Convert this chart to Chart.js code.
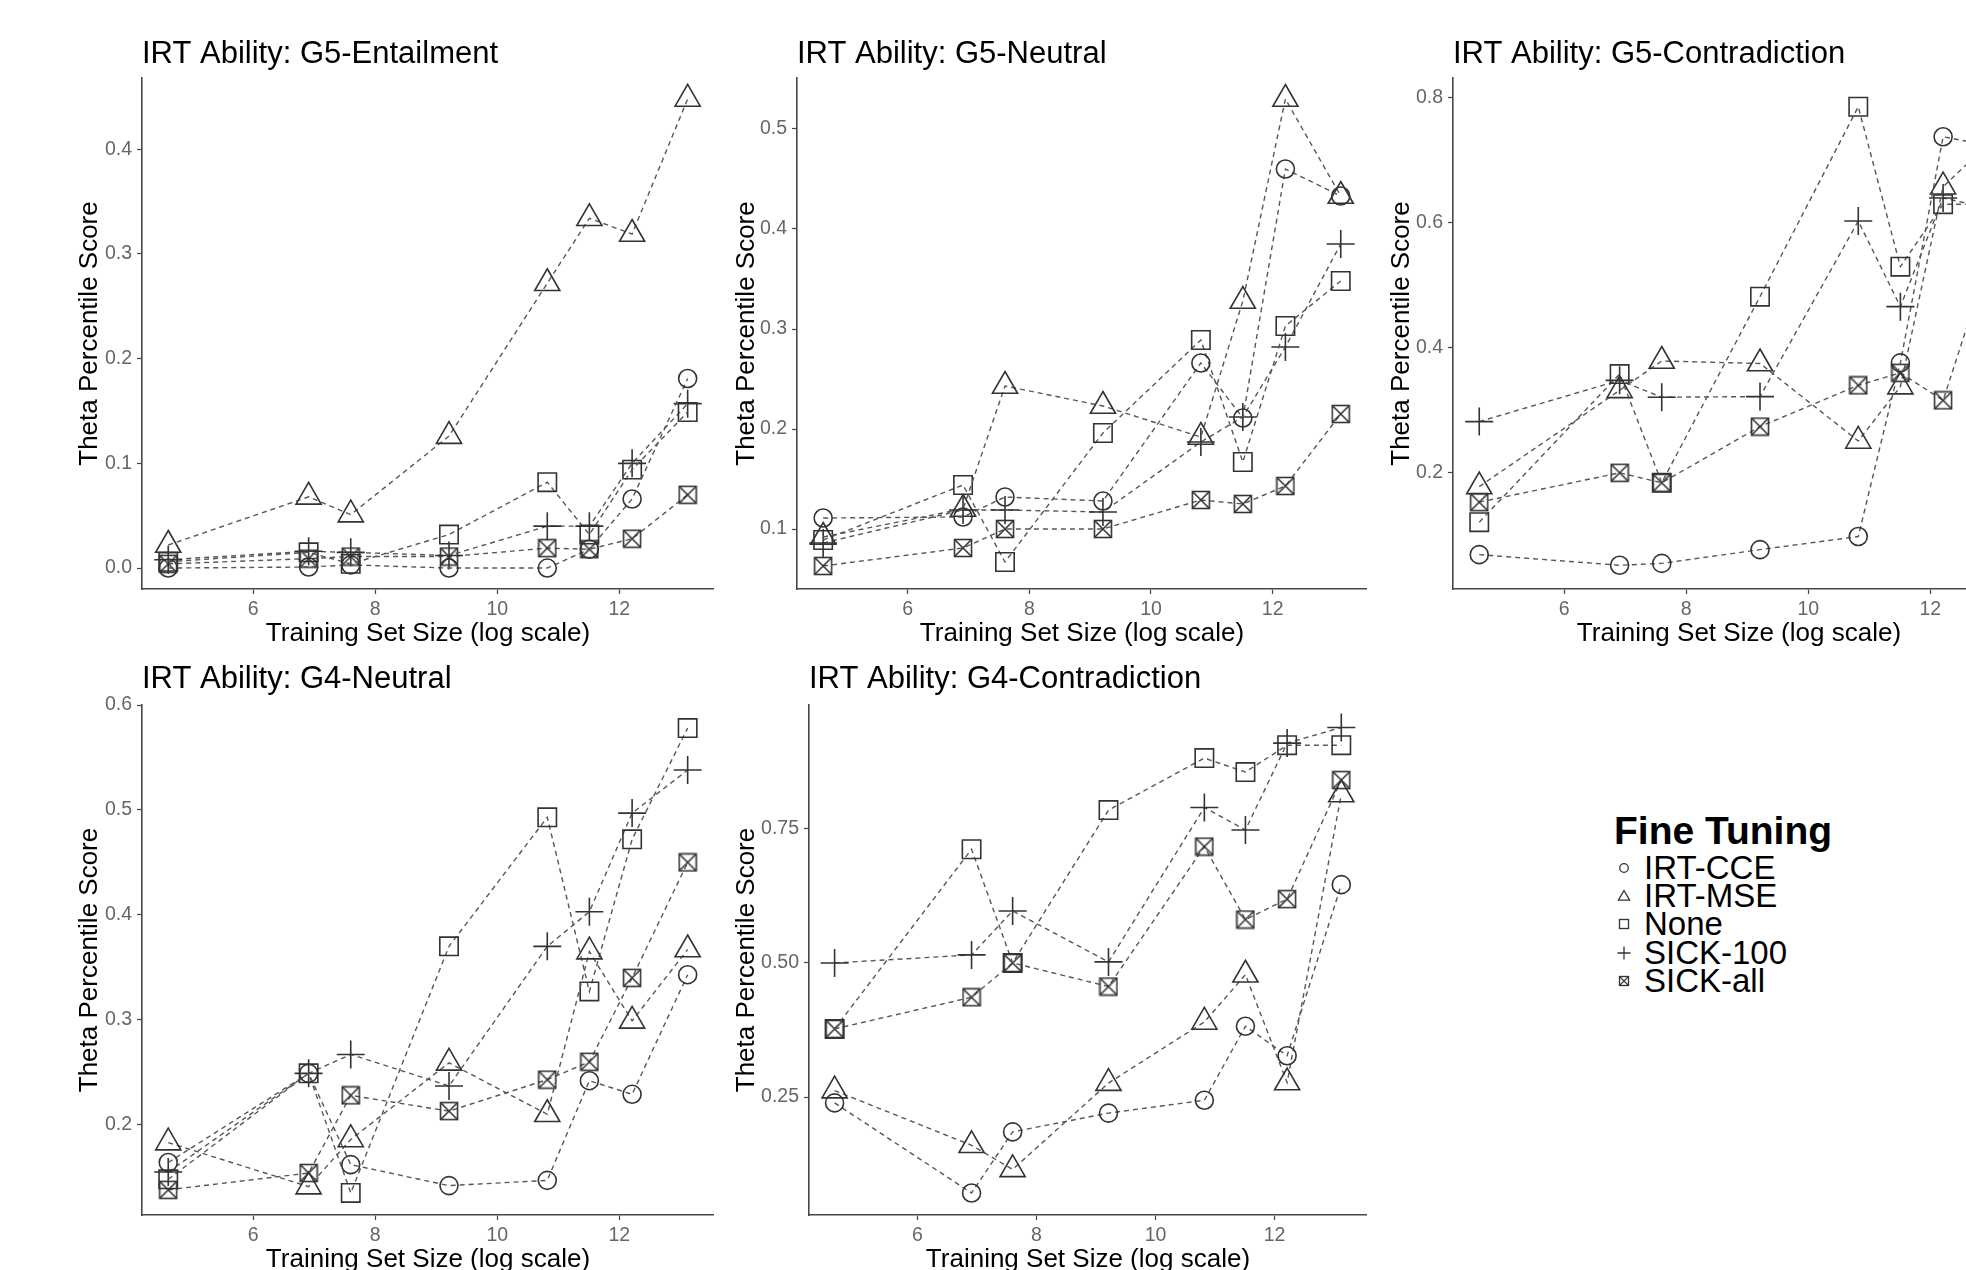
<!DOCTYPE html>
<html>
<head>
<meta charset="utf-8">
<script src="https://cdn.jsdelivr.net/npm/chart.js@4.4.1/dist/chart.umd.min.js"></script>
<style>
html,body{margin:0;padding:0;width:1966px;height:1270px;overflow:hidden;background:#fff;}
.panel{position:absolute;}
.panel canvas{display:block;}
.lg{position:absolute;font-family:"Liberation Sans",Arial,sans-serif;color:#000;white-space:nowrap;}
.lg svg{position:absolute;left:-28px;top:6px;}
</style>
</head>
<body>
<div class="panel" style="left:0px;top:29px"><canvas id="c1" width="730" height="622"></canvas></div>
<div class="panel" style="left:720px;top:29px"><canvas id="c2" width="663" height="622"></canvas></div>
<div class="panel" style="left:1380px;top:29px"><canvas id="c3" width="661" height="622"></canvas></div>
<div class="panel" style="left:0px;top:650px"><canvas id="c4" width="730" height="627"></canvas></div>
<div class="panel" style="left:720px;top:650px"><canvas id="c5" width="663" height="627"></canvas></div>
<div id="legend"></div>
<script>
// ---------------- data ----------------
const xLog = [4.61, 6.91, 7.60, 9.21, 10.82, 11.51, 12.21, 13.12];
const xTicks = [6, 8, 10, 12];
const seriesNames = ["IRT-CCE", "IRT-MSE", "None", "SICK-100", "SICK-all"];
const legendTitle = "Fine Tuning";
const xTitle = "Training Set Size (log scale)";
const yTitle = "Theta Percentile Score";

// G5-Entailment
const g5eTitle = "IRT Ability: G5-Entailment";
const g5eCCE  = [0.000, 0.001, 0.003, 0.000, 0.000, 0.018, 0.066, 0.181];
const g5eMSE  = [0.022, 0.068, 0.051, 0.126, 0.272, 0.334, 0.319, 0.448];
const g5eNone = [0.006, 0.015, 0.004, 0.032, 0.082, 0.032, 0.094, 0.149];
const g5eS100 = [0.008, 0.016, 0.015, 0.012, 0.040, 0.040, 0.100, 0.157];
const g5eSall = [0.004, 0.009, 0.011, 0.011, 0.019, 0.018, 0.028, 0.070];
const g5eTicks = [0.0, 0.1, 0.2, 0.3, 0.4];

// G5-Neutral
const g5nTitle = "IRT Ability: G5-Neutral";
const g5nCCE  = [0.111, 0.112, 0.132, 0.128, 0.266, 0.211, 0.460, 0.433];
const g5nMSE  = [0.092, 0.120, 0.243, 0.223, 0.192, 0.328, 0.530, 0.433];
const g5nNone = [0.089, 0.144, 0.067, 0.196, 0.289, 0.167, 0.303, 0.348];
const g5nS100 = [0.086, 0.119, 0.119, 0.117, 0.187, 0.212, 0.282, 0.385];
const g5nSall = [0.063, 0.081, 0.100, 0.100, 0.129, 0.125, 0.143, 0.215];
const g5nTicks = [0.1, 0.2, 0.3, 0.4, 0.5];

// G5-Contradiction
const g5cTitle = "IRT Ability: G5-Contradiction";
const g5cCCE  = [0.069, 0.052, 0.055, 0.077, 0.098, 0.376, 0.738, 0.721];
const g5cMSE  = [0.178, 0.332, 0.379, 0.375, 0.251, 0.338, 0.658, 0.742];
const g5cNone = [0.121, 0.358, 0.184, 0.482, 0.786, 0.530, 0.630, 0.630];
const g5cS100 = [0.282, 0.348, 0.321, 0.322, 0.603, 0.466, 0.640, 0.620];
const g5cSall = [0.153, 0.200, 0.184, 0.274, 0.340, 0.360, 0.316, 0.590];
const g5cTicks = [0.2, 0.4, 0.6, 0.8];

// G4-Neutral
const g4nTitle = "IRT Ability: G4-Neutral";
const g4nCCE  = [0.164, 0.249, 0.162, 0.142, 0.147, 0.242, 0.229, 0.343];
const g4nMSE  = [0.183, 0.141, 0.186, 0.259, 0.210, 0.365, 0.299, 0.367];
const g4nNone = [0.148, 0.249, 0.135, 0.370, 0.493, 0.327, 0.472, 0.578];
const g4nS100 = [0.155, 0.249, 0.267, 0.237, 0.370, 0.403, 0.497, 0.538];
const g4nSall = [0.138, 0.154, 0.228, 0.213, 0.243, 0.260, 0.340, 0.450];
const g4nTicks = [0.2, 0.3, 0.4, 0.5, 0.6];

// G4-Contradiction
const g4cTitle = "IRT Ability: G4-Contradiction";
const g4cCCE  = [0.239, 0.071, 0.185, 0.220, 0.244, 0.382, 0.327, 0.646];
const g4cMSE  = [0.262, 0.160, 0.115, 0.276, 0.390, 0.478, 0.277, 0.814];
const g4cNone = [0.377, 0.712, 0.500, 0.785, 0.882, 0.856, 0.906, 0.906];
const g4cS100 = [0.500, 0.515, 0.597, 0.502, 0.790, 0.748, 0.910, 0.939];
const g4cSall = [0.377, 0.436, 0.500, 0.456, 0.717, 0.581, 0.619, 0.841];
const g4cTicks = [0.25, 0.50, 0.75];

// ---------------- style ----------------
const FONT = '"Liberation Sans", Arial, sans-serif';
const markColor = '#333333';
const lineColor = '#575757';
const axisColor = '#474747';
const tickTextColor = '#666666';

function boxX(size) {
  const c = document.createElement('canvas');
  c.width = size + 2; c.height = size + 2;
  const g = c.getContext('2d');
  g.strokeStyle = markColor; g.lineWidth = 1.6;
  const a = 1.5, b = size + 0.5;
  g.strokeRect(a, a, b - a, b - a);
  g.beginPath();
  g.moveTo(a, a); g.lineTo(b, b);
  g.moveTo(b, a); g.lineTo(a, b);
  g.stroke();
  return c;
}
const pointStyles = ['circle', 'triangle', 'rect', 'cross', boxX(18)];
const pointRadii = [9, 14.5, 13, 14, 10];

function makeChart(id, p) {
  const vals = p.values;
  const datasets = seriesNames.map((name, i) => ({
    label: name,
    data: xLog.map((x, j) => ({ x: x, y: vals[i][j] })),
    borderColor: lineColor,
    borderWidth: 1.4,
    borderDash: [5, 4],
    pointStyle: pointStyles[i],
    pointRadius: pointRadii[i],
    pointBorderColor: markColor,
    pointBorderWidth: 1.6,
    pointBackgroundColor: 'rgba(0,0,0,0)',
    fill: false,
    tension: 0,
    clip: false
  }));
  return new Chart(document.getElementById(id), {
    type: 'line',
    data: { datasets },
    options: {
      responsive: false,
      animation: false,
      events: [],
      layout: { padding: { left: 0, right: 14, top: 0, bottom: 0 } },
      plugins: {
        legend: { display: false },
        tooltip: { enabled: false },
        title: {
          display: true, text: p.title, align: 'start', fullSize: false,
          color: '#000', font: { family: FONT, size: 31, weight: 'normal' },
          padding: { top: p.tPadTop, bottom: p.tPadBottom }
        }
      },
      scales: {
        x: {
          type: 'linear', min: 4.18, max: 13.55,
          afterBuildTicks: s => { s.ticks = xTicks.map(v => ({ value: v })); },
          afterFit: s => { s.height = 62; },
          ticks: { color: tickTextColor, font: { family: FONT, size: 19.5 }, padding: 4, maxRotation: 0,
                   callback: v => String(v) },
          grid: { drawOnChartArea: false, drawTicks: true, tickLength: 5, tickColor: axisColor, tickWidth: 1.2 },
          border: { display: true, color: axisColor, width: 1.6 },
          title: { display: true, text: xTitle, color: '#000', font: { family: FONT, size: 26 }, padding: { top: 0, bottom: 2 } }
        },
        y: {
          type: 'linear', min: p.yMin, max: p.yMax,
          afterBuildTicks: s => { s.ticks = p.ticks.map(v => ({ value: v })); },
          afterFit: s => { s.width = p.yWidth; },
          ticks: { color: tickTextColor, font: { family: FONT, size: 19.5 }, padding: 5,
                   callback: v => v.toFixed(p.dec) },
          grid: { drawOnChartArea: false, drawTicks: true, tickLength: 5, tickColor: axisColor, tickWidth: 1.2 },
          border: { display: true, color: axisColor, width: 1.6 },
          title: { display: true, text: yTitle, color: '#000', font: { family: FONT, size: 26 }, padding: { top: p.yTitlePad, bottom: 0 } }
        }
      }
    }
  });
}

makeChart('c1', { title: g5eTitle, values: [g5eCCE, g5eMSE, g5eNone, g5eS100, g5eSall], ticks: g5eTicks, dec: 1,
  yMin: -0.02, yMax: 0.468, yWidth: 142, yTitlePad: 74, tPadTop: 6.4, tPadBottom: 5.4 });
makeChart('c2', { title: g5nTitle, values: [g5nCCE, g5nMSE, g5nNone, g5nS100, g5nSall], ticks: g5nTicks, dec: 1,
  yMin: 0.04, yMax: 0.551, yWidth: 77, yTitlePad: 11, tPadTop: 6.4, tPadBottom: 5.4 });
makeChart('c3', { title: g5cTitle, values: [g5cCCE, g5cMSE, g5cNone, g5cS100, g5cSall], ticks: g5cTicks, dec: 1,
  yMin: 0.014, yMax: 0.832, yWidth: 73, yTitlePad: 6.5, tPadTop: 6.4, tPadBottom: 5.4 });
makeChart('c4', { title: g4nTitle, values: [g4nCCE, g4nMSE, g4nNone, g4nS100, g4nSall], ticks: g4nTicks, dec: 1,
  yMin: 0.114, yMax: 0.600, yWidth: 142, yTitlePad: 74, tPadTop: 10.4, tPadBottom: 7.4 });
makeChart('c5', { title: g4cTitle, values: [g4cCCE, g4cMSE, g4cNone, g4cS100, g4cSall], ticks: g4cTicks, dec: 2,
  yMin: 0.03, yMax: 0.981, yWidth: 89, yTitlePad: 11, tPadTop: 10.4, tPadBottom: 7.4 });

// ---------------- legend ----------------
const legendSymbols = [
  '<circle cx="8" cy="8" r="4.3" fill="none" stroke="#333" stroke-width="1.3"/>',
  '<polygon points="8,2.5 13.6,12.2 2.4,12.2" fill="none" stroke="#333" stroke-width="1.3"/>',
  '<rect x="3.5" y="3.5" width="9" height="9" fill="none" stroke="#333" stroke-width="1.3"/>',
  '<path d="M1.5 8H14.5M8 1.5V14.5" stroke="#333" stroke-width="1.3"/>',
  '<rect x="3.5" y="3.5" width="9" height="9" fill="none" stroke="#333" stroke-width="1.3"/><path d="M3.5 3.5L12.5 12.5M12.5 3.5L3.5 12.5" stroke="#333" stroke-width="1.1"/>'
];
const legendY = [868, 896, 924, 953, 981];
const leg = document.getElementById('legend');
const t = document.createElement('div');
t.className = 'lg';
t.style.cssText = 'left:1614px;top:811px;font-size:39px;font-weight:bold;line-height:40px;';
t.textContent = legendTitle;
leg.appendChild(t);
seriesNames.forEach((n, i) => {
  const d = document.createElement('div');
  d.className = 'lg';
  d.style.cssText = 'left:1644px;top:' + (legendY[i] - 14) + 'px;font-size:33px;line-height:28px;';
  d.innerHTML = '<svg width="16" height="16" viewBox="0 0 16 16">' + legendSymbols[i] + '</svg>';
  d.appendChild(document.createTextNode(n));
  leg.appendChild(d);
});
</script>
</body>
</html>
